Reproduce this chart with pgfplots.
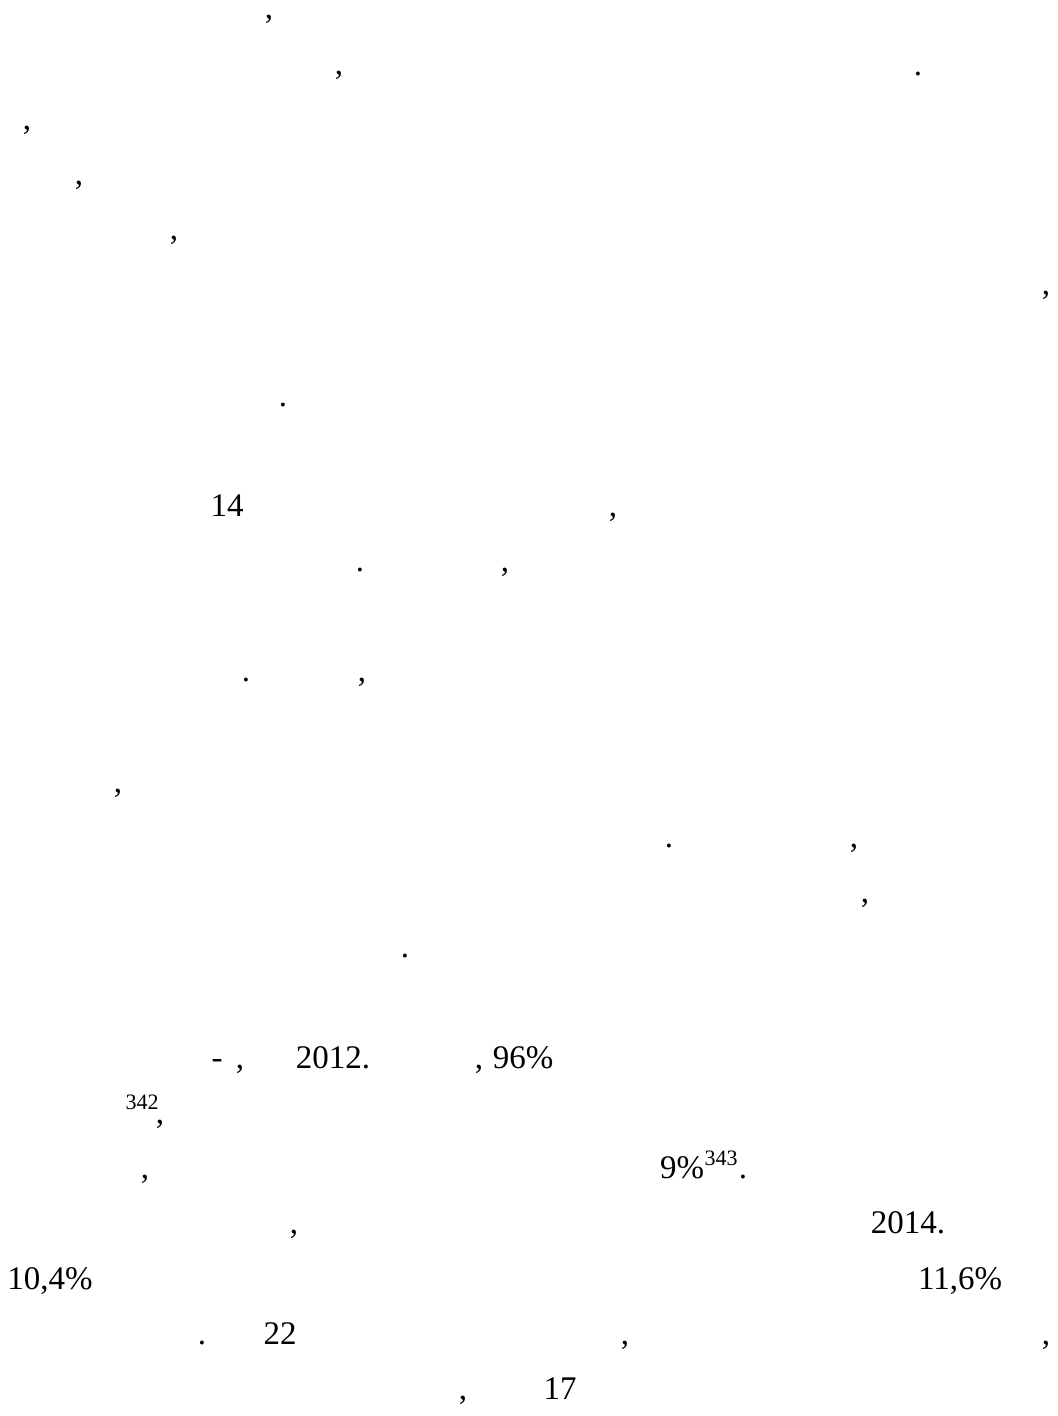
\documentclass[border=0pt]{standalone}
\usepackage{fontspec}
\setmainfont{Liberation Serif}
\usepackage{pgfplots}
\pgfplotsset{compat=1.18}

\begin{document}
\begin{tikzpicture}
\begin{axis}[
  width=422.8pt, height=566.4pt, scale only axis,
  xmin=0, xmax=1057, ymin=0, ymax=1416, y dir=reverse,
  hide axis, clip=false,
  only marks, mark=*, mark size=0pt, mark options={draw=none, fill=none},
  point meta=explicit symbolic,
  nodes near coords,
  every node near coord/.append style={anchor=base, inner sep=0pt, outer sep=0pt, text=black},
]
% bounding box of the page
\path (axis cs:0,0) rectangle (axis cs:1057,1416);

% text left on the page: x = centre, y = baseline (pixels)
\addplot[nodes near coords style={font=\fontsize{13.2}{15}\selectfont}]
  table[x=x, y=y, meta=t] {
x    y    t
269  19   ,
339  75   ,
918  76   .
27   130  ,
79   185  ,
174  240  ,
1046 295  ,
283  406  .
227  516  14
613  516  ,
360  571  .
505  571  ,
246  681  .
362  681  ,
118  792  ,
669  847  .
854  847  ,
865  902  ,
405  957  .
217  1068 -
240  1068 ,
333  1068 2012.
479  1068 ,
523  1068 96\%
160  1123 ,
145  1178 ,
682  1178 9\%
743  1178 .
294  1233 ,
908  1233 2014.
50   1289 10,4\%
960  1289 11,6\%
202  1344 .
280  1344 22
625  1344 ,
1046 1344 ,
463  1399 ,
560  1399 17
};

% footnote marks
\addplot[nodes near coords style={font=\fontsize{8.8}{10}\selectfont}]
  table[x=x, y=y, meta=t] {
x    y    t
142  1109 342
721  1165 343
};
\end{axis}
\end{tikzpicture}
\end{document}
